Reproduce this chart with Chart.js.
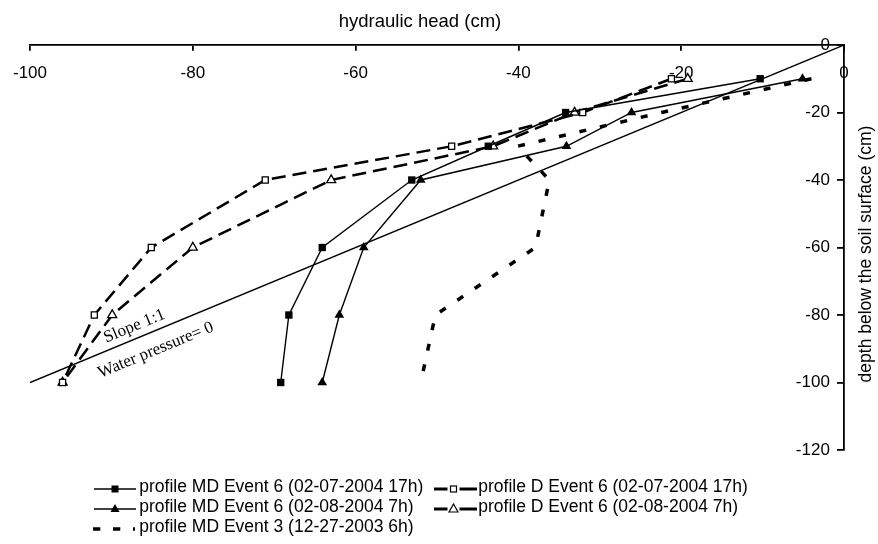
<!DOCTYPE html>
<html>
<head>
<meta charset="utf-8">
<script src="https://cdn.jsdelivr.net/npm/chart.js@4.4.1/dist/chart.umd.min.js"></script>
<style>
  body { margin: 0; background: #fff; }
  #wrap { position: relative; width: 878px; height: 544px; }
  #legend { position: absolute; left: 0; top: 0; font: 17.5px "Liberation Sans", Arial, sans-serif; color: #000; }
  #legend svg, #legend span { position: absolute; white-space: nowrap; line-height: 20px; }
</style>
</head>
<body>
<div id="wrap">
  <canvas id="c" width="878" height="544"></canvas>
  <div id="legend"></div>
</div>
<script>
// depth of the tensiometers (cm, negative = below surface)
const depths = [-10, -20, -30, -40, -60, -80, -100];

// hydraulic head (cm) per profile, read at each depth
const mdEvent6_17h = [-10.3, -34.2, -43.7, -53.1, -64.1, -68.2, -69.2];
const dEvent6_17h  = [-21.2, -32.1, -48.2, -71.1, -85.1, -92.1, -96.0];
const mdEvent6_7h  = [-5.1, -26.1, -34.1, -52.0, -59.0, -62.0, -64.1];
const dEvent6_7h   = [-19.2, -33.1, -43.1, -63.0, -80.0, -89.9, -96.0];
const mdEvent3_6h  = [-4.0, -22.4, -40.1, -36.2, -37.9, -50.2, -52.0];

// slope 1:1 reference line (water pressure = 0)
const slopeHead = [-100, 0];
const slopeDepth = [-100, 0];

const seriesLabels = [
  "profile MD Event 6 (02-07-2004 17h)",
  "profile D Event 6 (02-07-2004 17h)",
  "profile MD Event 6 (02-08-2004 7h)",
  "profile D Event 6 (02-08-2004 7h)",
  "profile MD Event 3 (12-27-2003 6h)",
];

const headTicks = [-100, -80, -60, -40, -20, 0];
const depthTicks = [0, -20, -40, -60, -80, -100, -120];

const headTitle = "hydraulic head (cm)";
const depthTitle = "depth below the soil surface (cm)";
const slopeText = "Slope 1:1";
const pressureText = "Water pressure= 0";

const SANS = '"Liberation Sans", Arial, sans-serif';
const SERIF = '"Liberation Serif", "Times New Roman", serif';

function pts(xs, ys) {
  return xs.map((v, i) => ({ x: v, y: ys[i] }));
}

const datasets = [
  {
    label: seriesLabels[0], data: pts(mdEvent6_17h, depths),
    borderColor: "#000", borderWidth: 1.4,
    pointStyle: "rect", pointRadius: 5.2, pointBackgroundColor: "#000", pointBorderWidth: 0,
    legend: { kind: "solid", marker: "rect", fill: true },
  },
  {
    label: seriesLabels[1], data: pts(dEvent6_17h, depths),
    borderColor: "#000", borderWidth: 2.5, borderDash: [14, 7],
    pointStyle: "rect", pointRadius: 4.3, pointBackgroundColor: "#fff",
    pointBorderColor: "#000", pointBorderWidth: 1.3,
    legend: { kind: "thick", marker: "rect", fill: false },
  },
  {
    label: seriesLabels[2], data: pts(mdEvent6_7h, depths),
    borderColor: "#000", borderWidth: 1.4,
    pointStyle: "triangle", pointRadius: 5.6, pointBackgroundColor: "#000", pointBorderWidth: 0,
    legend: { kind: "solid", marker: "triangle", fill: true },
  },
  {
    label: seriesLabels[3], data: pts(dEvent6_7h, depths),
    borderColor: "#000", borderWidth: 2.5, borderDash: [14, 7],
    pointStyle: "triangle", pointRadius: 5.2, pointBackgroundColor: "#fff",
    pointBorderColor: "#000", pointBorderWidth: 1.3,
    legend: { kind: "thick", marker: "triangle", fill: false },
  },
  {
    label: seriesLabels[4], data: pts(mdEvent3_6h, depths),
    borderColor: "#000", borderWidth: 3.5, borderDash: [7, 14],
    pointRadius: 0,
    legend: { kind: "dash" },
  },
  {
    label: "", data: pts(slopeHead, slopeDepth),
    borderColor: "#000", borderWidth: 1.4, pointRadius: 0,
  },
];
datasets.forEach(d => { d.showLine = true; d.tension = 0; d.fill = false; });

const axisFont = { family: SANS, size: 17 };

const textPlugin = {
  id: "textLabels",
  afterDraw(chart) {
    const { ctx, scales: { x, y } } = chart;
    ctx.save();
    ctx.fillStyle = "#000";

    // axis titles
    ctx.font = "18.5px " + SANS;
    ctx.textAlign = "center";
    ctx.textBaseline = "alphabetic";
    ctx.fillText(headTitle, 420, 27.3);

    ctx.save();
    ctx.translate(870.5, 254);
    ctx.rotate(-Math.PI / 2);
    ctx.font = "17.5px " + SANS;
    ctx.fillText(depthTitle, 0, 0);
    ctx.restore();

    // labels along the 1:1 line
    const ax = x.getPixelForValue(slopeHead[0]), ay = y.getPixelForValue(slopeDepth[0]);
    const bx = x.getPixelForValue(slopeHead[1]), by = y.getPixelForValue(slopeDepth[1]);
    const ang = Math.atan2(by - ay, bx - ax);
    ctx.font = "17px " + SERIF;
    ctx.textBaseline = "middle";
    [[slopeText, -86.6, -11.9], [pressureText, -85.4, 18.3]].forEach(([t, v, off]) => {
      ctx.save();
      ctx.translate(x.getPixelForValue(v), y.getPixelForValue(v));
      ctx.rotate(ang);
      ctx.fillText(t, 0, off);
      ctx.restore();
    });
    ctx.restore();
  },
};

const chart = new Chart(document.getElementById("c"), {
  type: "scatter",
  data: { datasets },
  options: {
    responsive: false,
    animation: false,
    devicePixelRatio: 1,
    layout: { padding: { left: 28, right: 34, top: 45, bottom: 94 } },
    plugins: { legend: { display: false }, tooltip: { enabled: false } },
    scales: {
      x: {
        type: "linear",
        position: { y: 0 },
        min: -100, max: 0,
        afterBuildTicks: s => { s.ticks = headTicks.map(v => ({ value: v })); },
        afterFit: s => { s.height = 0; },
        ticks: { color: "#000", font: axisFont, padding: 13, maxRotation: 0 },
        grid: { drawOnChartArea: false, color: "#000", lineWidth: 1.8, tickLength: 5 },
        border: { color: "#000", width: 1.8 },
      },
      y: {
        type: "linear",
        position: { x: 0 },
        min: -120, max: 0,
        afterBuildTicks: s => { s.ticks = depthTicks.map(v => ({ value: v })); },
        afterFit: s => { s.width = 0; },
        // labels of a positioned axis sit on the line itself, so pad them with spaces
        ticks: { color: "#000", font: axisFont, callback: v => v + "   " },
        grid: { drawOnChartArea: false, color: "#000", lineWidth: 1.8, tickLength: 6 },
        border: { color: "#000", width: 1.8 },
      },
    },
  },
  plugins: [textPlugin],
});

// html legend built from the chart datasets, two columns
function iconSvg(leg, w) {
  const c = w / 2;
  let s = `<svg width="${w}" height="20" viewBox="0 0 ${w} 20">`;
  if (leg.kind === "solid") {
    s += `<line x1="0" y1="10" x2="${w}" y2="10" stroke="#000" stroke-width="1.6"/>`;
  } else if (leg.kind === "thick") {
    s += `<line x1="0" y1="10" x2="${c - 8}" y2="10" stroke="#000" stroke-width="3"/>`;
    s += `<line x1="${c + 4}" y1="10" x2="${w}" y2="10" stroke="#000" stroke-width="3"/>`;
  } else {
    s += `<line x1="0" y1="10" x2="${w}" y2="10" stroke="#000" stroke-width="3.5" stroke-dasharray="7.3 12.7"/>`;
  }
  const mx = leg.kind === "thick" ? c - 2 : c;
  const fill = leg.fill ? "#000" : "#fff";
  if (leg.marker === "rect") {
    const h = leg.fill ? 3.5 : 3;
    s += `<rect x="${mx - h}" y="${10 - h}" width="${2 * h}" height="${2 * h}" fill="${fill}" stroke="#000" stroke-width="${leg.fill ? 0 : 1.2}"/>`;
  } else if (leg.marker === "triangle") {
    s += `<polygon points="${mx},${5} ${mx + 4.5},${13} ${mx - 4.5},${13}" fill="${fill}" stroke="#000" stroke-width="${leg.fill ? 0 : 1.2}"/>`;
  }
  return s + "</svg>";
}

const legendEl = document.getElementById("legend");
const colIcon = [94, 434];
const colText = [139.3, 478.3];
const colIconW = [42, 43];
chart.data.datasets.filter(d => d.label).forEach((d, i) => {
  const col = i % 2, row = Math.floor(i / 2);
  const top = 479 + row * 20;
  const ix = d.legend.kind === "dash" ? 93 : colIcon[col];
  legendEl.insertAdjacentHTML("beforeend",
    iconSvg(d.legend, colIconW[col]).replace("<svg ", `<svg style="left:${ix}px;top:${top}px" `) +
    `<span style="left:${colText[col]}px;top:${top - 3.4}px">${d.label}</span>`);
});
</script>
</body>
</html>
